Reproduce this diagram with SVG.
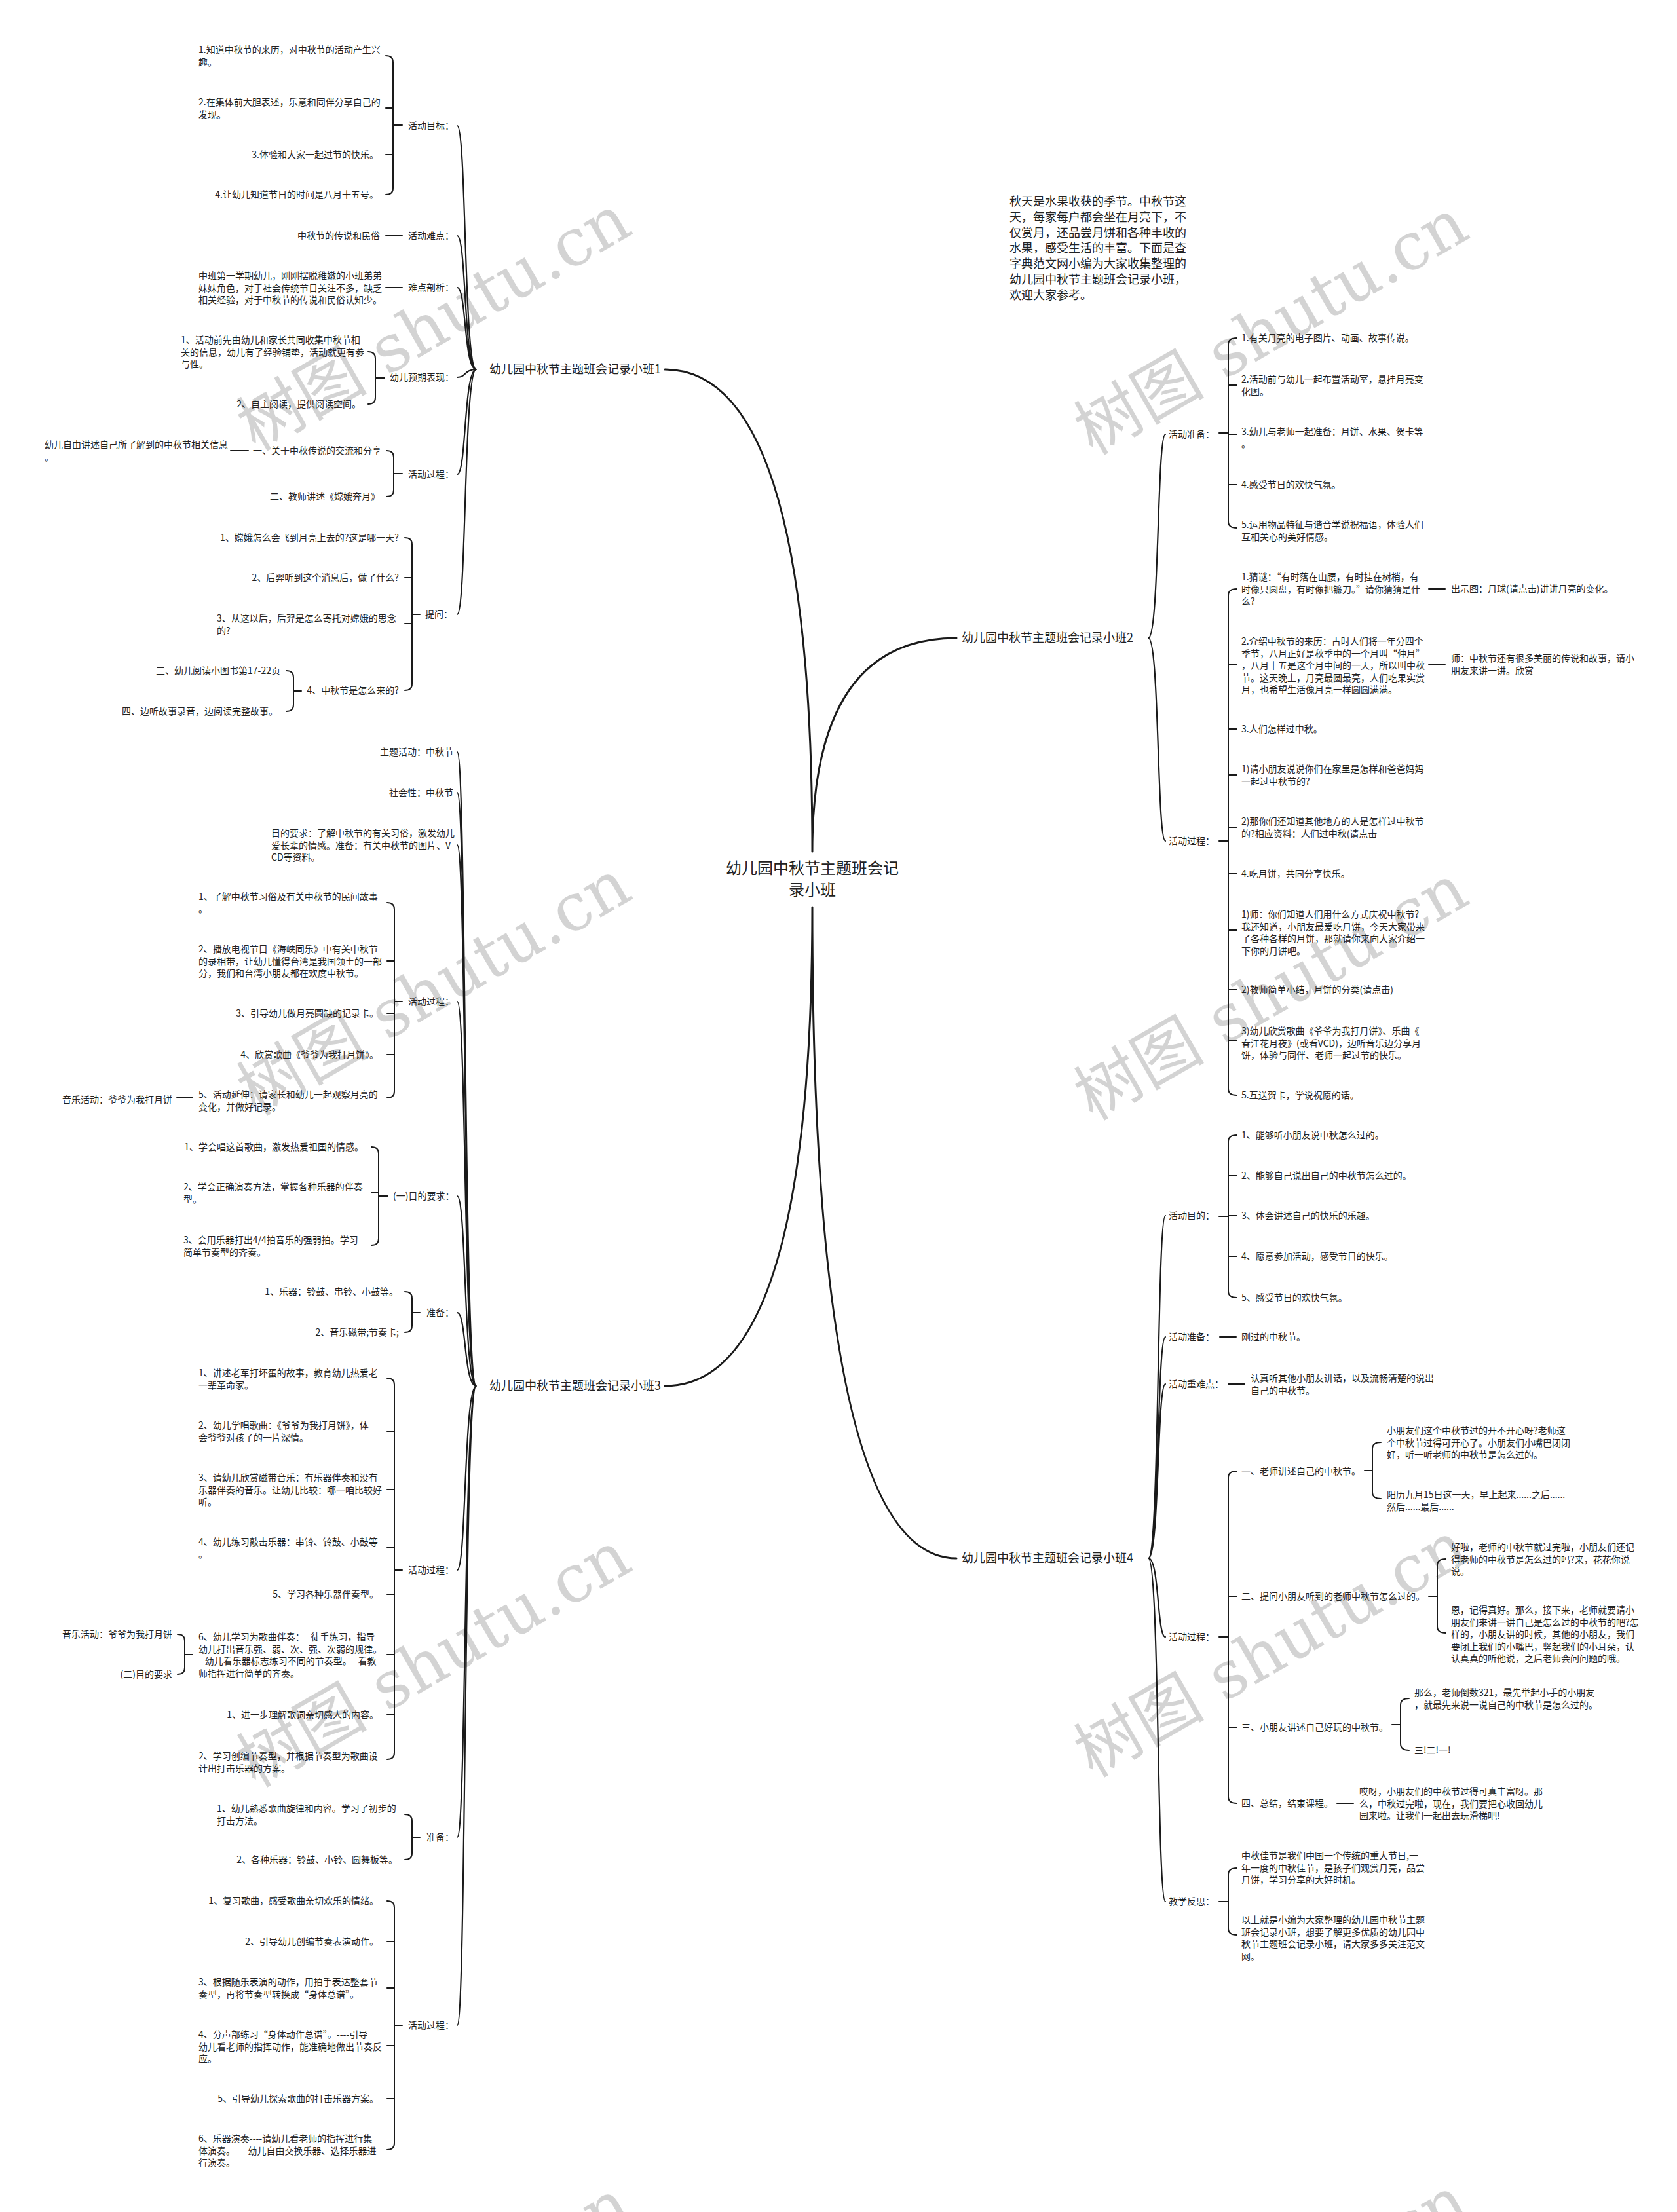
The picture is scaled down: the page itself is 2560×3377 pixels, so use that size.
<svg xmlns="http://www.w3.org/2000/svg" width="2560" height="3377" viewBox="0 0 2560 3377">
<style>
.t{font-family:"Noto Sans CJK SC","Noto Sans",sans-serif;font-size:14px;fill:#222}
.b{font-size:18px}
.ti{font-size:24px}
.e{text-anchor:end}
.ln{fill:none;stroke:#1a1a1a;stroke-width:2;stroke-linecap:round}
.l2{stroke-width:2.2}
.mn{stroke-width:3}
.wm{font-family:"DejaVu Serif","Noto Sans CJK SC",serif;font-size:100px;fill:#000;opacity:.17}
</style>
<rect width="2560" height="3377" fill="#fff"/>
<g id="watermarks">
<text class="wm" transform="translate(390,690) rotate(-30)">树图 shutu.cn</text>
<text class="wm" transform="translate(390,1705) rotate(-30)">树图 shutu.cn</text>
<text class="wm" transform="translate(390,2730) rotate(-30)">树图 shutu.cn</text>
<text class="wm" transform="translate(390,3720) rotate(-30)">树图 shutu.cn</text>
<text class="wm" transform="translate(1668,696) rotate(-30)">树图 shutu.cn</text>
<text class="wm" transform="translate(1668,1712) rotate(-30)">树图 shutu.cn</text>
<text class="wm" transform="translate(1668,2715) rotate(-30)">树图 shutu.cn</text>
<text class="wm" transform="translate(1668,3715) rotate(-30)">树图 shutu.cn</text>
</g>
<g id="connectors">
<path class="ln mn" d="M1240,1300 Q1240,564 1015,564 M1240,1300 Q1240,974 1460,974 M1240,1385 Q1240,2116 1015,2116 M1240,1385 Q1240,2379 1460,2379"/>
<path class="ln l2" d="M727,564 C708,564 712,192 698,192 M727,564 C708,564 712,360 698,360 M727,564 C708,564 712,439 698,439 M727,564 C708,564 712,576 698,576 M727,564 C708,564 712,724 698,724 M727,564 C708,564 712,938 698,938"/>
<path class="ln l2" d="M727,2116 C708,2116 712,1148 698,1148 M727,2116 C708,2116 712,1210 698,1210 M727,2116 C708,2116 712,1290 698,1290 M727,2116 C708,2116 712,1529 698,1529 M727,2116 C708,2116 712,1826 698,1826 M727,2116 C708,2116 712,2004 698,2004 M727,2116 C708,2116 712,2397 698,2397 M727,2116 C708,2116 712,2805 698,2805 M727,2116 C708,2116 712,3092 698,3092"/>
<path class="ln l2" d="M1753,974 C1770,974 1766,663 1779,663 M1753,974 C1770,974 1766,1284 1779,1284"/>
<path class="ln l2" d="M1753,2379 C1770,2379 1766,1856 1779,1856 M1753,2379 C1770,2379 1766,2041 1779,2041 M1753,2379 C1770,2379 1766,2113 1779,2113 M1753,2379 C1770,2379 1766,2499 1779,2499 M1753,2379 C1770,2379 1766,2903 1779,2903"/>
<path class="ln" d="M589,85 Q600,85 600,95 L600,287 Q600,297 589,297 M600,165 H589 M600,236 H589 M600,191 H614"/>
<path class="ln" d="M562,537 Q573,537 573,547 L573,607 Q573,617 562,617 M573,577 H587"/>
<path class="ln" d="M590,688 Q601,688 601,698 L601,748 Q601,758 590,758 M601,723 H614"/>
<path class="ln" d="M618,821 Q629,821 629,831 L629,1044 Q629,1054 618,1054 M629,882 H618 M629,952 H618 M629,938 H641"/>
<path class="ln" d="M437,1024 Q448,1024 448,1034 L448,1076 Q448,1086 437,1086 M448,1055 H460"/>
<path class="ln" d="M591,1378 Q602,1378 602,1388 L602,1666 Q602,1676 591,1676 M602,1467 H591 M602,1547 H591 M602,1610 H591 M602,1529 H614"/>
<path class="ln" d="M567,1751 Q578,1751 578,1761 L578,1891 Q578,1901 567,1901 M578,1821 H567 M578,1826 H592"/>
<path class="ln" d="M618,1972 Q629,1972 629,1982 L629,2024 Q629,2034 618,2034 M629,2004 H641"/>
<path class="ln" d="M591,2104 Q602,2104 602,2114 L602,2676 Q602,2686 591,2686 M602,2185 H591 M602,2274 H591 M602,2363 H591 M602,2434 H591 M602,2526 H591 M602,2618 H591 M602,2397 H614"/>
<path class="ln" d="M271,2495 Q282,2495 282,2505 L282,2546 Q282,2556 271,2556 M282,2526 H294"/>
<path class="ln" d="M618,2770 Q629,2770 629,2780 L629,2829 Q629,2839 618,2839 M629,2805 H641"/>
<path class="ln" d="M591,2902 Q602,2902 602,2912 L602,3272 Q602,3282 591,3282 M602,2964 H591 M602,3035 H591 M602,3123 H591 M602,3204 H591 M602,3092 H614"/>
<path class="ln" d="M589,360 H614 M589,439 H614 M352,688 H379 M270,1676 H294"/>
<path class="ln" d="M1888,516 Q1875,516 1875,526 L1875,796 Q1875,806 1888,806 M1875,588 H1888 M1875,663 H1888 M1875,740 H1888 M1861,661 H1875"/>
<path class="ln" d="M1888,899 Q1875,899 1875,909 L1875,1662 Q1875,1672 1888,1672 M1875,1015 H1888 M1875,1113 H1888 M1875,1183 H1888 M1875,1263 H1888 M1875,1334 H1888 M1875,1420 H1888 M1875,1511 H1888 M1875,1588 H1888 M1861,1284 H1875"/>
<path class="ln" d="M1888,1733 Q1875,1733 1875,1743 L1875,1971 Q1875,1981 1888,1981 M1875,1795 H1888 M1875,1856 H1888 M1875,1918 H1888 M1861,1857 H1875"/>
<path class="ln" d="M1888,2246 Q1875,2246 1875,2256 L1875,2743 Q1875,2753 1888,2753 M1875,2437 H1888 M1875,2637 H1888 M1861,2499 H1875"/>
<path class="ln" d="M2108,2202 Q2095,2202 2095,2212 L2095,2278 Q2095,2288 2108,2288 M2083,2245 H2095"/>
<path class="ln" d="M2207,2380 Q2194,2380 2194,2390 L2194,2483 Q2194,2493 2207,2493 M2181,2437 H2194"/>
<path class="ln" d="M2151,2593 Q2138,2593 2138,2603 L2138,2662 Q2138,2672 2151,2672 M2125,2633 H2138"/>
<path class="ln" d="M1888,2852 Q1875,2852 1875,2862 L1875,2944 Q1875,2954 1888,2954 M1861,2903 H1875"/>
<path class="ln" d="M2181,899 H2206 M2181,1015 H2206 M1862,2041 H1887 M1875,2113 H1900 M2041,2753 H2066"/>
</g>
<g id="root"><text class="t ti" x="1240" y="1334" text-anchor="middle">幼儿园中秋节主题班会记<tspan x="1240" dy="33">录小班</tspan></text></g>
<g id="intro"><text class="t b" x="1541" y="314">秋天是水果收获的季节。中秋节这<tspan x="1541" dy="23.8">天，每家每户都会坐在月亮下，不</tspan><tspan x="1541" dy="23.8">仅赏月，还品尝月饼和各种丰收的</tspan><tspan x="1541" dy="23.8">水果，感受生活的丰富。下面是查</tspan><tspan x="1541" dy="23.8">字典范文网小编为大家收集整理的</tspan><tspan x="1541" dy="23.8">幼儿园中秋节主题班会记录小班，</tspan><tspan x="1541" dy="23.8">欢迎大家参考。</tspan></text></g>
<g id="branch1">
<text class="t b" x="747" y="570">幼儿园中秋节主题班会记录小班1</text>
<text class="t" x="623" y="197">活动目标：</text>
<text class="t" x="303" y="81">1.知道中秋节的来历，对中秋节的活动产生兴<tspan x="303" dy="18.5">趣。</tspan></text>
<text class="t" x="303" y="161">2.在集体前大胆表述，乐意和同伴分享自己的<tspan x="303" dy="18.5">发现。</tspan></text>
<text class="t e" x="578" y="241">3.体验和大家一起过节的快乐。</text>
<text class="t e" x="578" y="302">4.让幼儿知道节日的时间是八月十五号。</text>
<text class="t" x="623" y="365">活动难点：</text>
<text class="t e" x="580" y="365">中秋节的传说和民俗</text>
<text class="t" x="623" y="444">难点剖析：</text>
<text class="t" x="303" y="426">中班第一学期幼儿，刚刚摆脱稚嫩的小班弟弟<tspan x="303" dy="18.5">妹妹角色，对于社会传统节日关注不多，缺乏</tspan><tspan x="303" dy="18.5">相关经验，对于中秋节的传说和民俗认知少。</tspan></text>
<text class="t" x="595" y="581">幼儿预期表现：</text>
<text class="t" x="276" y="524">1、活动前先由幼儿和家长共同收集中秋节相<tspan x="276" dy="18.5">关的信息，幼儿有了经验铺垫，活动就更有参</tspan><tspan x="276" dy="18.5">与性。</tspan></text>
<text class="t e" x="551" y="622">2、自主阅读，提供阅读空间。</text>
<text class="t" x="623" y="729">活动过程：</text>
<text class="t e" x="582" y="693">一、关于中秋传说的交流和分享</text>
<text class="t" x="68" y="684">幼儿自由讲述自己所了解到的中秋节相关信息<tspan x="68" dy="18.5">。</tspan></text>
<text class="t e" x="580" y="763">二、教师讲述《嫦娥奔月》</text>
<text class="t" x="649" y="943">提问：</text>
<text class="t e" x="609" y="826">1、嫦娥怎么会飞到月亮上去的?这是哪一天?</text>
<text class="t e" x="609" y="887">2、后羿听到这个消息后，做了什么?</text>
<text class="t" x="331" y="949">3、从这以后，后羿是怎么寄托对嫦娥的思念<tspan x="331" dy="18.5">的?</tspan></text>
<text class="t e" x="609" y="1059">4、中秋节是怎么来的?</text>
<text class="t e" x="428" y="1029">三、幼儿阅读小图书第17-22页</text>
<text class="t e" x="424" y="1091">四、边听故事录音，边阅读完整故事。</text>
</g>
<g id="branch3">
<text class="t b" x="747" y="2122">幼儿园中秋节主题班会记录小班3</text>
<text class="t e" x="692" y="1153">主题活动：中秋节</text>
<text class="t e" x="692" y="1215">社会性：中秋节</text>
<text class="t" x="414" y="1277">目的要求：了解中秋节的有关习俗，激发幼儿<tspan x="414" dy="18.5">爱长辈的情感。准备：有关中秋节的图片、V</tspan><tspan x="414" dy="18.5">CD等资料。</tspan></text>
<text class="t" x="623" y="1534">活动过程：</text>
<text class="t" x="303" y="1374">1、了解中秋节习俗及有关中秋节的民间故事<tspan x="303" dy="18.5">。</tspan></text>
<text class="t" x="303" y="1454">2、播放电视节目《海峡同乐》中有关中秋节<tspan x="303" dy="18.5">的录相带，让幼儿懂得台湾是我国领土的一部</tspan><tspan x="303" dy="18.5">分，我们和台湾小朋友都在欢度中秋节。</tspan></text>
<text class="t e" x="578" y="1552">3、引导幼儿做月亮圆缺的记录卡。</text>
<text class="t e" x="578" y="1615">4、欣赏歌曲《爷爷为我打月饼》。</text>
<text class="t" x="303" y="1676">5、活动延伸：请家长和幼儿一起观察月亮的<tspan x="303" dy="18.5">变化，并做好记录。</tspan></text>
<text class="t e" x="263" y="1684">音乐活动：爷爷为我打月饼</text>
<text class="t" x="600" y="1831">(一)目的要求：</text>
<text class="t e" x="555" y="1756">1、学会唱这首歌曲，激发热爱祖国的情感。</text>
<text class="t" x="280" y="1817">2、学会正确演奏方法，掌握各种乐器的伴奏<tspan x="280" dy="18.5">型。</tspan></text>
<text class="t" x="280" y="1898">3、会用乐器打出4/4拍音乐的强弱拍。学习<tspan x="280" dy="18.5">简单节奏型的齐奏。</tspan></text>
<text class="t" x="651" y="2009">准备：</text>
<text class="t e" x="608" y="1977">1、乐器：铃鼓、串铃、小鼓等。</text>
<text class="t e" x="609" y="2039">2、音乐磁带;节奏卡;</text>
<text class="t" x="623" y="2402">活动过程：</text>
<text class="t" x="303" y="2101">1、讲述老军打坏蛋的故事，教育幼儿热爱老<tspan x="303" dy="18.5">一辈革命家。</tspan></text>
<text class="t" x="303" y="2181">2、幼儿学唱歌曲：《爷爷为我打月饼》，体<tspan x="303" dy="18.5">会爷爷对孩子的一片深情。</tspan></text>
<text class="t" x="303" y="2261">3、请幼儿欣赏磁带音乐：有乐器伴奏和没有<tspan x="303" dy="18.5">乐器伴奏的音乐。让幼儿比较：哪一咱比较好</tspan><tspan x="303" dy="18.5">听。</tspan></text>
<text class="t" x="303" y="2359">4、幼儿练习敲击乐器：串铃、铃鼓、小鼓等<tspan x="303" dy="18.5">。</tspan></text>
<text class="t e" x="578" y="2439">5、学习各种乐器伴奏型。</text>
<text class="t" x="303" y="2504">6、幼儿学习为歌曲伴奏：--徒手练习，指导<tspan x="303" dy="18.5">幼儿打出音乐强、弱、次、强、次弱的规律。</tspan><tspan x="303" dy="18.5">--幼儿看乐器标志练习不同的节奏型。--看教</tspan><tspan x="303" dy="18.5">师指挥进行简单的齐奏。</tspan></text>
<text class="t e" x="263" y="2500">音乐活动：爷爷为我打月饼</text>
<text class="t e" x="263" y="2561">(二)目的要求</text>
<text class="t e" x="578" y="2623">1、进一步理解歌词亲切感人的内容。</text>
<text class="t" x="303" y="2686">2、学习创编节奏型，并根据节奏型为歌曲设<tspan x="303" dy="18.5">计出打击乐器的方案。</tspan></text>
<text class="t" x="651" y="2810">准备：</text>
<text class="t" x="331" y="2766">1、幼儿熟悉歌曲旋律和内容。学习了初步的<tspan x="331" dy="18.5">打击方法。</tspan></text>
<text class="t e" x="607" y="2844">2、各种乐器：铃鼓、小铃、圆舞板等。</text>
<text class="t" x="623" y="3097">活动过程：</text>
<text class="t e" x="578" y="2907">1、复习歌曲，感受歌曲亲切欢乐的情绪。</text>
<text class="t e" x="578" y="2969">2、引导幼儿创编节奏表演动作。</text>
<text class="t" x="303" y="3031">3、根据随乐表演的动作，用拍手表达整套节<tspan x="303" dy="18.5">奏型，再将节奏型转换成“身体总谱”。</tspan></text>
<text class="t" x="303" y="3111">4、分声部练习“身体动作总谱”。----引导<tspan x="303" dy="18.5">幼儿看老师的指挥动作，能准确地做出节奏反</tspan><tspan x="303" dy="18.5">应。</tspan></text>
<text class="t e" x="578" y="3209">5、引导幼儿探索歌曲的打击乐器方案。</text>
<text class="t" x="303" y="3270">6、乐器演奏----请幼儿看老师的指挥进行集<tspan x="303" dy="18.5">体演奏。----幼儿自由交换乐器、选择乐器进</tspan><tspan x="303" dy="18.5">行演奏。</tspan></text>
</g>
<g id="branch2">
<text class="t b" x="1468" y="980">幼儿园中秋节主题班会记录小班2</text>
<text class="t" x="1784" y="668">活动准备：</text>
<text class="t" x="1895" y="521">1.有关月亮的电子图片、动画、故事传说。</text>
<text class="t" x="1895" y="584">2.活动前与幼儿一起布置活动室，悬挂月亮变<tspan x="1895" dy="18.5">化图。</tspan></text>
<text class="t" x="1895" y="664">3.幼儿与老师一起准备：月饼、水果、贺卡等<tspan x="1895" dy="18.5">。</tspan></text>
<text class="t" x="1895" y="745">4.感受节日的欢快气氛。</text>
<text class="t" x="1895" y="806">5.运用物品特征与谐音学说祝福语，体验人们<tspan x="1895" dy="18.5">互相关心的美好情感。</tspan></text>
<text class="t" x="1784" y="1289">活动过程：</text>
<text class="t" x="1895" y="886">1.猜谜：“有时落在山腰，有时挂在树梢，有<tspan x="1895" dy="18.5">时像只圆盘，有时像把镰刀。”请你猜猜是什</tspan><tspan x="1895" dy="18.5">么?</tspan></text>
<text class="t" x="2215" y="904">出示图：月球(请点击)讲讲月亮的变化。</text>
<text class="t" x="1895" y="984">2.介绍中秋节的来历：古时人们将一年分四个<tspan x="1895" dy="18.5">季节，八月正好是秋季中的一个月叫“仲月”</tspan><tspan x="1895" dy="18.5">，八月十五是这个月中间的一天，所以叫中秋</tspan><tspan x="1895" dy="18.5">节。这天晚上，月亮最圆最亮，人们吃果实赏</tspan><tspan x="1895" dy="18.5">月，也希望生活像月亮一样圆圆满满。</tspan></text>
<text class="t" x="2215" y="1010">师：中秋节还有很多美丽的传说和故事，请小<tspan x="2215" dy="18.5">朋友来讲一讲。欣赏</tspan></text>
<text class="t" x="1895" y="1118">3.人们怎样过中秋。</text>
<text class="t" x="1895" y="1179">1)请小朋友说说你们在家里是怎样和爸爸妈妈<tspan x="1895" dy="18.5">一起过中秋节的?</tspan></text>
<text class="t" x="1895" y="1259">2)那你们还知道其他地方的人是怎样过中秋节<tspan x="1895" dy="18.5">的?相应资料：人们过中秋(请点击</tspan></text>
<text class="t" x="1895" y="1339">4.吃月饼，共同分享快乐。</text>
<text class="t" x="1895" y="1401">1)师：你们知道人们用什么方式庆祝中秋节?<tspan x="1895" dy="18.5">我还知道，小朋友最爱吃月饼，今天大家带来</tspan><tspan x="1895" dy="18.5">了各种各样的月饼，那就请你来向大家介绍一</tspan><tspan x="1895" dy="18.5">下你的月饼吧。</tspan></text>
<text class="t" x="1895" y="1516">2)教师简单小结，月饼的分类(请点击)</text>
<text class="t" x="1895" y="1579">3)幼儿欣赏歌曲《爷爷为我打月饼》、乐曲《<tspan x="1895" dy="18.5">春江花月夜》(或看VCD)，边听音乐边分享月</tspan><tspan x="1895" dy="18.5">饼，体验与同伴、老师一起过节的快乐。</tspan></text>
<text class="t" x="1895" y="1677">5.互送贺卡，学说祝愿的话。</text>
</g>
<g id="branch4">
<text class="t b" x="1468" y="2385">幼儿园中秋节主题班会记录小班4</text>
<text class="t" x="1784" y="1861">活动目的：</text>
<text class="t" x="1895" y="1738">1、能够听小朋友说中秋怎么过的。</text>
<text class="t" x="1895" y="1800">2、能够自己说出自己的中秋节怎么过的。</text>
<text class="t" x="1895" y="1861">3、体会讲述自己的快乐的乐趣。</text>
<text class="t" x="1895" y="1923">4、愿意参加活动，感受节日的快乐。</text>
<text class="t" x="1895" y="1986">5、感受节日的欢快气氛。</text>
<text class="t" x="1784" y="2046">活动准备：</text>
<text class="t" x="1895" y="2046">刚过的中秋节。</text>
<text class="t" x="1784" y="2118">活动重难点：</text>
<text class="t" x="1909" y="2109">认真听其他小朋友讲话，以及流畅清楚的说出<tspan x="1909" dy="18.5">自己的中秋节。</tspan></text>
<text class="t" x="1784" y="2504">活动过程：</text>
<text class="t" x="1895" y="2251">一、老师讲述自己的中秋节。</text>
<text class="t" x="2117" y="2189">小朋友们这个中秋节过的开不开心呀?老师这<tspan x="2117" dy="18.5">个中秋节过得可开心了。小朋友们小嘴巴闭闭</tspan><tspan x="2117" dy="18.5">好，听一听老师的中秋节是怎么过的。</tspan></text>
<text class="t" x="2117" y="2287">阳历九月15日这一天，早上起来......之后......<tspan x="2117" dy="18.5">然后......最后......</tspan></text>
<text class="t" x="1895" y="2442">二、提问小朋友听到的老师中秋节怎么过的。</text>
<text class="t" x="2215" y="2367">好啦，老师的中秋节就过完啦，小朋友们还记<tspan x="2215" dy="18.5">得老师的中秋节是怎么过的吗?来，花花你说</tspan><tspan x="2215" dy="18.5">说。</tspan></text>
<text class="t" x="2215" y="2463">恩，记得真好。那么，接下来，老师就要请小<tspan x="2215" dy="18.5">朋友们来讲一讲自己是怎么过的中秋节的吧?怎</tspan><tspan x="2215" dy="18.5">样的，小朋友讲的时候，其他的小朋友，我们</tspan><tspan x="2215" dy="18.5">要闭上我们的小嘴巴，竖起我们的小耳朵，认</tspan><tspan x="2215" dy="18.5">认真真的听他说，之后老师会问问题的哦。</tspan></text>
<text class="t" x="1895" y="2642">三、小朋友讲述自己好玩的中秋节。</text>
<text class="t" x="2159" y="2589">那么，老师倒数321，最先举起小手的小朋友<tspan x="2159" dy="18.5">，就最先来说一说自己的中秋节是怎么过的。</tspan></text>
<text class="t" x="2159" y="2677">三!二!一!</text>
<text class="t" x="1895" y="2758">四、总结，结束课程。</text>
<text class="t" x="2075" y="2740">哎呀，小朋友们的中秋节过得可真丰富呀。那<tspan x="2075" dy="18.5">么，中秋过完啦，现在，我们要把心收回幼儿</tspan><tspan x="2075" dy="18.5">园来啦。让我们一起出去玩滑梯吧!</tspan></text>
<text class="t" x="1784" y="2908">教学反思：</text>
<text class="t" x="1895" y="2838">中秋佳节是我们中国一个传统的重大节日,一<tspan x="1895" dy="18.5">年一度的中秋佳节，是孩子们观赏月亮，品尝</tspan><tspan x="1895" dy="18.5">月饼，学习分享的大好时机。</tspan></text>
<text class="t" x="1895" y="2936">以上就是小编为大家整理的幼儿园中秋节主题<tspan x="1895" dy="18.5">班会记录小班，想要了解更多优质的幼儿园中</tspan><tspan x="1895" dy="18.5">秋节主题班会记录小班，请大家多多关注范文</tspan><tspan x="1895" dy="18.5">网。</tspan></text>
</g>
</svg>
